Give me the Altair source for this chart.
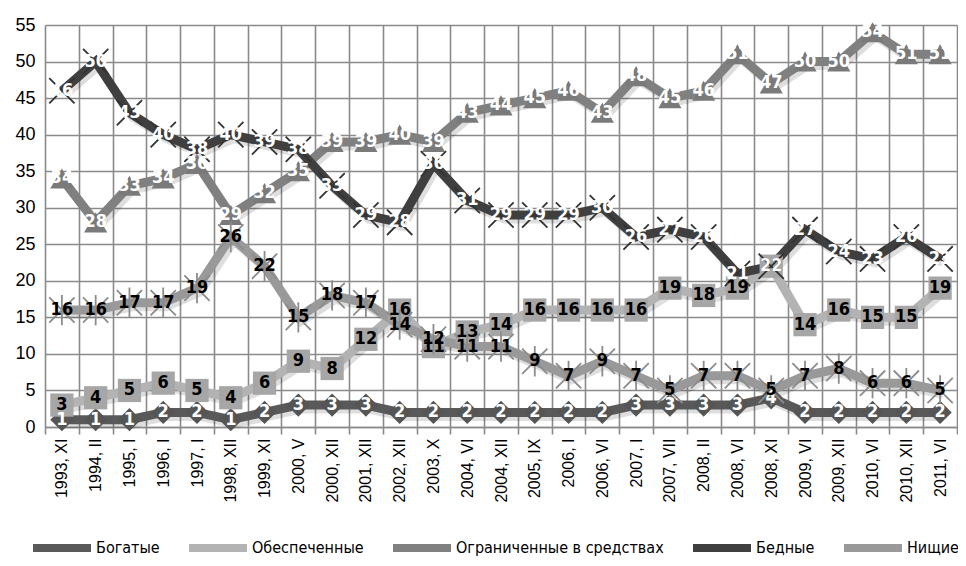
import altair as alt
import pandas as pd

categories = ["1993, XI", "1994, II", "1995, I", "1996, I", "1997, I", "1998, XII",
              "1999, XI", "2000, V", "2000, XII", "2001, XII", "2002, XII", "2003, X",
              "2004, VI", "2004, XII", "2005, IX", "2006, I", "2006, VI", "2007, I",
              "2007, VII", "2008, II", "2008, VI", "2008, XI", "2009, VI", "2009, XII",
              "2010, VI", "2010, XII", "2011, VI"]

series_names = ["Богатые", "Обеспеченные", "Ограниченные в средствах", "Бедные", "Нищие"]

bogatye = [1, 1, 1, 2, 2, 1, 2, 3, 3, 3, 2, 2, 2, 2, 2, 2, 2, 3, 3, 3, 3, 4, 2, 2, 2, 2, 2]
obespechennye = [3, 4, 5, 6, 5, 4, 6, 9, 8, 12, 16, 11, 13, 14, 16, 16, 16, 16, 19, 18, 19, 22, 14, 16, 15, 15, 19]
ogranichennye = [34, 28, 33, 34, 36, 29, 32, 35, 39, 39, 40, 39, 43, 44, 45, 46, 43, 48, 45, 46, 51, 47, 50, 50, 54, 51, 51]
bednye = [46, 50, 43, 40, 38, 40, 39, 38, 33, 29, 28, 36, 31, 29, 29, 29, 30, 26, 27, 26, 21, 22, 27, 24, 23, 26, 23]
nishchie = [16, 16, 17, 17, 19, 26, 22, 15, 18, 17, 14, 12, 11, 11, 9, 7, 9, 7, 5, 7, 7, 5, 7, 8, 6, 6, 5]

all_values = [bogatye, obespechennye, ogranichennye, bednye, nishchie]

# styles
line_colors = ["#595959", "#b3b3b3", "#808080", "#3f3f3f", "#999999"]
marker_colors = ["#555555", "#a6a6a6", "#7a7a7a", "#333333", "#8c8c8c"]
label_colors = ["white", "black", "white", "white", "black"]
filled_shapes = ["diamond", "square", "triangle-up"]
x_shapes = ["M-1,-1L1,1M1,-1L-1,1", "M-1,-1L1,1M1,-1L-1,1M0,-1.2L0,1.2"]

rows = []
for s, vals, lc in zip(series_names, all_values, label_colors):
    for c, v in zip(categories, vals):
        rows.append({"cat": c, "series": s, "val": v, "lc": lc, "txt": str(v)})
df = pd.DataFrame(rows)

FONT = "Liberation Sans"
NARROW = "Liberation Sans Narrow, Arial Narrow, DejaVu Sans Condensed, Liberation Sans"

x_enc = alt.X("cat:O", sort=categories, bandPosition=0.5,
              scale=alt.Scale(type="band", paddingInner=0, paddingOuter=0),
              axis=alt.Axis(title=None, labelAngle=270, tickBand="extent", grid=True,
                            labelFontSize=16, labelFont=FONT, labelPadding=4, tickSize=7))
y_enc = alt.Y("val:Q", scale=alt.Scale(domain=[0, 55], nice=False, zero=True),
              axis=alt.Axis(title=None, values=list(range(0, 56, 5)), grid=True,
                            domain=False, ticks=False, labelFontSize=18, labelPadding=10))

base = alt.Chart(df)

shadow = base.mark_line(strokeWidth=9, color="black", opacity=0.13, xOffset=3, yOffset=4).encode(
    x=x_enc, y=y_enc, detail="series:N")

lines = base.mark_line(strokeWidth=9).encode(
    x=x_enc, y=y_enc,
    color=alt.Color("series:N", sort=series_names,
                    scale=alt.Scale(domain=series_names, range=line_colors),
                    legend=alt.Legend(orient="none", legendX=-16, legendY=490,
                                      direction="horizontal", title=None,
                                      symbolType="stroke", symbolSize=3364,
                                      symbolStrokeWidth=8, labelFontSize=16,
                                      labelFont=NARROW, labelColor="black",
                                      labelLimit=400, columnPadding=13, labelOffset=1)),
    order=alt.Order("series:N"))

filled_pts = base.mark_point(filled=True, size=540, opacity=1).encode(
    x=x_enc, y=y_enc,
    fill=alt.Fill("series:N", scale=alt.Scale(domain=series_names[:3], range=marker_colors[:3]), legend=None),
    shape=alt.Shape("series:N", scale=alt.Scale(domain=series_names[:3], range=filled_shapes), legend=None),
).transform_filter(alt.FieldOneOfPredicate(field="series", oneOf=series_names[:3]))

x_pts = base.mark_point(filled=False, size=640, strokeWidth=1.8, opacity=1).encode(
    x=x_enc, y=y_enc,
    stroke=alt.Stroke("series:N", scale=alt.Scale(domain=series_names[3:], range=marker_colors[3:]), legend=None),
    shape=alt.Shape("series:N", scale=alt.Scale(domain=series_names[3:], range=x_shapes), legend=None),
).transform_filter(alt.FieldOneOfPredicate(field="series", oneOf=series_names[3:]))

labels = base.mark_text(font=NARROW, fontWeight="bold", fontSize=18, align="center",
                        baseline="middle").encode(
    x=x_enc, y=y_enc, text="txt:N",
    color=alt.Color("lc:N", scale=None))

chart = alt.layer(shadow, lines, filled_pts, x_pts, labels).resolve_scale(
    shape="independent"
).properties(
    width=912, height=402,
    autosize=alt.AutoSizeParams(type="none"),
    padding={"left": 37, "top": 17, "right": 1, "bottom": 131},
).configure_view(stroke=None).configure(background="white").configure_axis(
    labelFont=FONT, labelColor="black", gridColor="#8a8a8a", gridWidth=1.6,
    tickColor="#8a8a8a", tickWidth=1.6, domainColor="#8a8a8a", domainWidth=1.6
).configure_axisX(labelFontSize=16, labelLimit=200)

chart.save("out.html", embed_options={"renderer": "svg", "actions": False})
